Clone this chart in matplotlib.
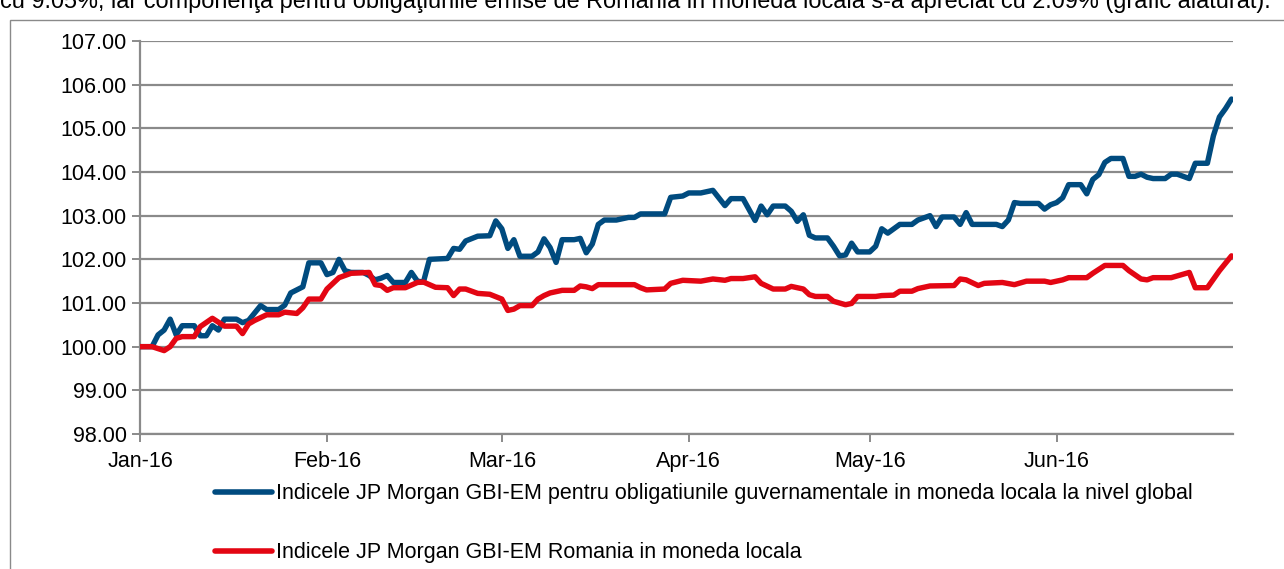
import numpy as np
import pandas as pd
import matplotlib
matplotlib.use("Agg")
import matplotlib.pyplot as plt
import matplotlib.dates as mdates
from matplotlib.patches import Rectangle

plt.rcParams['font.family'] = ['Liberation Sans', 'DejaVu Sans']

# --- date ---
intro = ("cu 9.05%, iar componenţa pentru obligaţiunile emise de Romania in moneda "
         "locala s-a apreciat cu 2.09% (grafic alaturat).")

label_global = ("Indicele JP Morgan GBI-EM pentru obligatiunile guvernamentale "
                "in moneda locala la nivel global")
label_ro = "Indicele JP Morgan GBI-EM Romania in moneda locala"

global_dates = [
    "2016-01-01", "2016-01-03", "2016-01-04", "2016-01-05", "2016-01-06", "2016-01-07",
    "2016-01-08", "2016-01-10", "2016-01-11", "2016-01-12", "2016-01-13", "2016-01-14",
    "2016-01-15", "2016-01-17", "2016-01-18", "2016-01-19", "2016-01-21", "2016-01-22",
    "2016-01-24", "2016-01-25", "2016-01-26", "2016-01-28", "2016-01-29", "2016-01-31",
    "2016-02-01", "2016-02-02", "2016-02-03", "2016-02-04", "2016-02-05", "2016-02-07",
    "2016-02-08", "2016-02-09", "2016-02-10", "2016-02-11", "2016-02-12", "2016-02-14",
    "2016-02-15", "2016-02-16", "2016-02-17", "2016-02-18", "2016-02-21", "2016-02-22",
    "2016-02-23", "2016-02-24", "2016-02-26", "2016-02-28", "2016-02-29", "2016-03-01",
    "2016-03-02", "2016-03-03", "2016-03-04", "2016-03-06", "2016-03-07", "2016-03-08",
    "2016-03-09", "2016-03-10", "2016-03-11", "2016-03-13", "2016-03-14", "2016-03-15",
    "2016-03-16", "2016-03-17", "2016-03-18", "2016-03-20", "2016-03-22", "2016-03-23",
    "2016-03-24", "2016-03-28", "2016-03-29", "2016-03-31", "2016-04-01", "2016-04-03",
    "2016-04-05", "2016-04-07", "2016-04-08", "2016-04-10", "2016-04-11", "2016-04-12",
    "2016-04-13", "2016-04-14", "2016-04-15", "2016-04-17", "2016-04-18", "2016-04-19",
    "2016-04-20", "2016-04-21", "2016-04-22", "2016-04-24", "2016-04-25", "2016-04-26",
    "2016-04-27", "2016-04-28", "2016-04-29", "2016-05-01", "2016-05-02", "2016-05-03",
    "2016-05-04", "2016-05-05", "2016-05-06", "2016-05-08", "2016-05-09", "2016-05-11",
    "2016-05-12", "2016-05-13", "2016-05-15", "2016-05-16", "2016-05-17", "2016-05-18",
    "2016-05-22", "2016-05-23", "2016-05-24", "2016-05-25", "2016-05-26", "2016-05-29",
    "2016-05-30", "2016-05-31", "2016-06-01", "2016-06-02", "2016-06-03", "2016-06-05",
    "2016-06-06", "2016-06-07", "2016-06-08", "2016-06-09", "2016-06-10", "2016-06-12",
    "2016-06-13", "2016-06-14", "2016-06-15", "2016-06-16", "2016-06-17", "2016-06-19",
    "2016-06-20", "2016-06-21", "2016-06-23", "2016-06-24", "2016-06-26", "2016-06-27",
    "2016-06-28", "2016-06-29", "2016-06-30",
]
global_vals = [
    100.00, 100.00, 100.27, 100.38, 100.63, 100.27,
    100.48, 100.48, 100.25, 100.25, 100.48, 100.38,
    100.63, 100.63, 100.55, 100.60, 100.94, 100.85,
    100.85, 100.95, 101.23, 101.37, 101.92, 101.92,
    101.65, 101.70, 102.00, 101.74, 101.70, 101.70,
    101.63, 101.53, 101.57, 101.63, 101.47, 101.47,
    101.70, 101.50, 101.48, 102.00, 102.02, 102.25,
    102.23, 102.42, 102.53, 102.54, 102.88, 102.70,
    102.25, 102.45, 102.07, 102.07, 102.17, 102.47,
    102.27, 101.93, 102.45, 102.45, 102.48, 102.15,
    102.35, 102.80, 102.90, 102.90, 102.96, 102.96,
    103.04, 103.04, 103.42, 103.45, 103.52, 103.52,
    103.58, 103.23, 103.39, 103.39, 103.14, 102.89,
    103.22, 103.02, 103.22, 103.22, 103.10, 102.87,
    103.02, 102.55, 102.49, 102.49, 102.30, 102.08,
    102.10, 102.37, 102.17, 102.17, 102.30, 102.70,
    102.60, 102.70, 102.80, 102.80, 102.90, 103.00,
    102.75, 102.97, 102.97, 102.80, 103.07, 102.80,
    102.80, 102.75, 102.90, 103.30, 103.28, 103.28,
    103.15, 103.25, 103.30, 103.41, 103.71, 103.71,
    103.50, 103.83, 103.94, 104.22, 104.31, 104.31,
    103.90, 103.90, 103.95, 103.88, 103.85, 103.85,
    103.95, 103.95, 103.85, 104.20, 104.20, 104.83,
    105.26, 105.45, 105.67,
]

ro_dates = [
    "2016-01-01", "2016-01-03", "2016-01-05", "2016-01-06", "2016-01-07", "2016-01-08",
    "2016-01-10", "2016-01-11", "2016-01-13", "2016-01-15", "2016-01-17", "2016-01-18",
    "2016-01-19", "2016-01-20", "2016-01-22", "2016-01-24", "2016-01-25", "2016-01-27",
    "2016-01-28", "2016-01-29", "2016-01-31", "2016-02-01", "2016-02-03", "2016-02-05",
    "2016-02-08", "2016-02-09", "2016-02-10", "2016-02-11", "2016-02-12", "2016-02-14",
    "2016-02-16", "2016-02-17", "2016-02-19", "2016-02-21", "2016-02-22", "2016-02-23",
    "2016-02-24", "2016-02-26", "2016-02-28", "2016-03-01", "2016-03-02", "2016-03-03",
    "2016-03-04", "2016-03-06", "2016-03-07", "2016-03-08", "2016-03-09", "2016-03-11",
    "2016-03-13", "2016-03-14", "2016-03-15", "2016-03-16", "2016-03-17", "2016-03-23",
    "2016-03-24", "2016-03-25", "2016-03-28", "2016-03-29", "2016-03-31", "2016-04-03",
    "2016-04-05", "2016-04-07", "2016-04-08", "2016-04-10", "2016-04-12", "2016-04-13",
    "2016-04-15", "2016-04-17", "2016-04-18", "2016-04-20", "2016-04-21", "2016-04-22",
    "2016-04-24", "2016-04-25", "2016-04-27", "2016-04-28", "2016-04-29", "2016-05-02",
    "2016-05-03", "2016-05-05", "2016-05-06", "2016-05-08", "2016-05-09", "2016-05-11",
    "2016-05-15", "2016-05-16", "2016-05-17", "2016-05-19", "2016-05-20", "2016-05-23",
    "2016-05-25", "2016-05-27", "2016-05-30", "2016-05-31", "2016-06-02", "2016-06-03",
    "2016-06-06", "2016-06-07", "2016-06-09", "2016-06-12", "2016-06-13", "2016-06-15",
    "2016-06-16", "2016-06-17", "2016-06-20", "2016-06-22", "2016-06-23", "2016-06-24",
    "2016-06-26", "2016-06-28", "2016-06-30",
]
ro_vals = [
    100.00, 100.00, 99.91, 100.00, 100.19, 100.23,
    100.23, 100.46, 100.65, 100.47, 100.47, 100.30,
    100.52, 100.60, 100.73, 100.73, 100.79, 100.76,
    100.89, 101.09, 101.09, 101.32, 101.58, 101.68,
    101.70, 101.42, 101.40, 101.29, 101.35, 101.35,
    101.47, 101.48, 101.36, 101.35, 101.17, 101.32,
    101.32, 101.22, 101.20, 101.09, 100.83, 100.86,
    100.94, 100.94, 101.09, 101.17, 101.23, 101.29,
    101.29, 101.39, 101.37, 101.33, 101.42, 101.42,
    101.35, 101.30, 101.32, 101.45, 101.52, 101.50,
    101.55, 101.52, 101.56, 101.56, 101.60, 101.45,
    101.32, 101.32, 101.38, 101.32, 101.19, 101.15,
    101.15, 101.04, 100.96, 100.99, 101.15, 101.15,
    101.17, 101.18, 101.27, 101.27, 101.33, 101.39,
    101.40, 101.55, 101.53, 101.40, 101.45, 101.47,
    101.42, 101.50, 101.50, 101.47, 101.53, 101.58,
    101.58, 101.68, 101.86, 101.86, 101.74, 101.55,
    101.53, 101.58, 101.58, 101.66, 101.70, 101.35,
    101.35, 101.74, 102.08,
]

y_ticks = [98, 99, 100, 101, 102, 103, 104, 105, 106, 107]

# --- figura ---
W, H = 1284, 569
fig = plt.figure(figsize=(W / 100, H / 100), dpi=100)
fig.patch.set_facecolor('white')

# chenar
fig.patches.append(Rectangle((10 / W, -0.05), 1.2, 1 - 20 / H + 0.05,
                             transform=fig.transFigure, fill=False,
                             edgecolor='#8a8a8a', lw=1.0))

fig.text(0.0, 1 - 8 / H, intro, fontsize=16.9, va='baseline', ha='left',
         color='black')

ax = fig.add_axes([140 / W, 1 - 434 / H, (1233 - 140) / W, (434 - 41) / H])

ax.plot(pd.to_datetime(global_dates), global_vals, color='#004B7F', lw=3.9,
        solid_joinstyle='round', solid_capstyle='round', label=label_global, zorder=3)
ax.plot(pd.to_datetime(ro_dates), ro_vals, color='#E30613', lw=3.9,
        solid_joinstyle='round', solid_capstyle='round', label=label_ro, zorder=3)

ax.set_ylim(98, 107)
ax.set_yticks(y_ticks)
ax.yaxis.set_major_formatter(plt.FuncFormatter(lambda v, p: f"{v:.2f}"))
ax.set_xlim(pd.Timestamp("2016-01-01"), pd.Timestamp("2016-06-30 06:00"))
ax.xaxis.set_major_locator(mdates.MonthLocator())
ax.xaxis.set_major_formatter(mdates.DateFormatter('%b-%y'))

ax.grid(axis='y', color='#8a8a8a', lw=1.6, zorder=1)
for s in ['top', 'right']:
    ax.spines[s].set_visible(False)
for s in ['left', 'bottom']:
    ax.spines[s].set_color('#8a8a8a')
    ax.spines[s].set_linewidth(1.6)
ax.tick_params(axis='both', colors='#8a8a8a', labelcolor='black', labelsize=15.5,
               length=6, width=1.4)
ax.tick_params(axis='x', pad=6)

leg = fig.legend(loc='upper left', bbox_to_anchor=(196 / W, 1 - 464 / H),
                 frameon=False, fontsize=15.5, handlelength=2.65,
                 handletextpad=0.15, labelspacing=1.75)
for ln in leg.get_lines():
    ln.set_linewidth(4.0)
    ln.set_solid_capstyle('round')

fig.savefig('out.png', dpi=100)
